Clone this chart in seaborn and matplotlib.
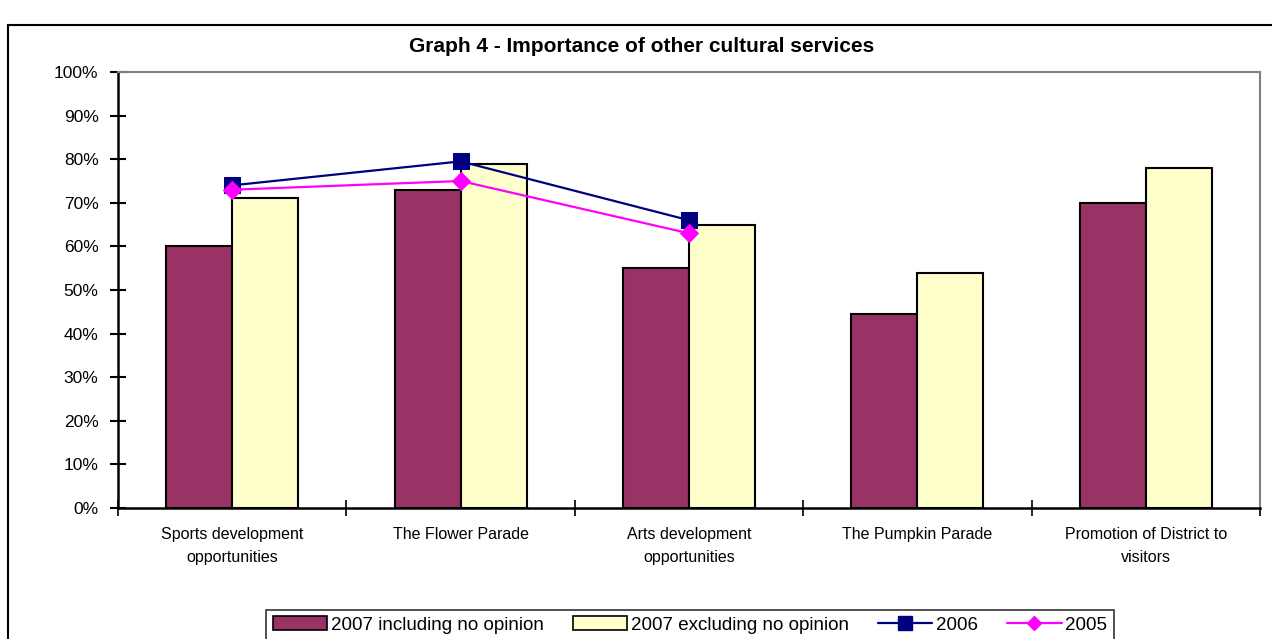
import numpy as np
import pandas as pd
import matplotlib
matplotlib.use("Agg")
import matplotlib.pyplot as plt
from matplotlib.patches import Rectangle, Patch
from matplotlib.lines import Line2D
from matplotlib.ticker import PercentFormatter, FixedLocator, NullFormatter
import seaborn as sns

# ---- data -------------------------------------------------------------
categories = [
    "Sports development\nopportunities",
    "The Flower Parade",
    "Arts development\nopportunities",
    "The Pumpkin Parade",
    "Promotion of District to\nvisitors",
]
incl_2007 = [0.60, 0.73, 0.55, 0.445, 0.70]
excl_2007 = [0.71, 0.79, 0.65, 0.54, 0.78]
vals_2006 = [0.74, 0.795, 0.66]
vals_2005 = [0.73, 0.75, 0.63]

series_names = ["2007 including no opinion", "2007 excluding no opinion"]
line_names = ["2006", "2005"]
title = "Graph 4 - Importance of other cultural services"

bar_colors = ["#993366", "#FFFFCC"]
line_colors = ["#000080", "#FF00FF"]

df = pd.DataFrame({
    "category": categories * 2,
    "value": incl_2007 + excl_2007,
    "series": [series_names[0]] * len(categories) + [series_names[1]] * len(categories),
})

# ---- figure -----------------------------------------------------------
sns.set_theme(style="white")
plt.rcParams["font.family"] = ["Liberation Sans", "DejaVu Sans"]
plt.rcParams["text.color"] = "black"
plt.rcParams["xtick.color"] = "black"
plt.rcParams["ytick.color"] = "black"

W, H = 1272, 639
fig = plt.figure(figsize=(W / 100, H / 100), dpi=100)
fig.patch.set_facecolor("white")

# outer chart frame
fig.add_artist(Rectangle((8 / W, -0.05), 1.2, 1 - 25 / H + 0.05,
                         transform=fig.transFigure, fill=False,
                         edgecolor="black", linewidth=1.5, zorder=0))

left, right, top, bottom = 118, 1260, 72, 508
ax = fig.add_axes([left / W, 1 - bottom / H, (right - left) / W, (bottom - top) / H])

sns.barplot(data=df, x="category", y="value", hue="series",
            palette=bar_colors, order=categories, hue_order=series_names,
            width=0.578, gap=0, edgecolor="black", linewidth=1.5,
            saturation=1, legend=False, ax=ax)

pos = np.arange(len(vals_2006))
sns.lineplot(x=pos, y=vals_2006, color=line_colors[0], marker="s",
             markersize=11.5, markeredgecolor=line_colors[0], linewidth=1.6,
             ax=ax, legend=False)
sns.lineplot(x=pos, y=vals_2005, color=line_colors[1], marker="D",
             markersize=9, markeredgecolor=line_colors[1], linewidth=1.6,
             ax=ax, legend=False)

ax.set_xlim(-0.5, len(categories) - 0.5)
ax.set_ylim(0, 1)
ax.set_xlabel("")
ax.set_ylabel("")

# y axis
ax.yaxis.set_major_locator(FixedLocator(np.linspace(0, 1, 11)))
ax.yaxis.set_major_formatter(PercentFormatter(1.0, decimals=0))
ax.tick_params(axis="y", which="major", direction="inout", length=12,
               width=1.5, color="black", labelsize=12.5, pad=8,
               labelcolor="black", left=True)

# x axis: marks on category boundaries, names in the middle
ax.xaxis.set_major_locator(FixedLocator(np.arange(-0.5, len(categories), 1.0)))
ax.xaxis.set_major_formatter(NullFormatter())
ax.xaxis.set_minor_locator(FixedLocator(np.arange(len(categories))))
ax.set_xticklabels(categories, minor=True)
ax.tick_params(axis="x", which="major", direction="inout", length=12,
               width=1.2, color="black", bottom=True)
ax.tick_params(axis="x", which="minor", length=0, labelsize=11.5, pad=14,
               labelcolor="black")
for lbl in ax.get_xticklabels(minor=True):
    lbl.set_linespacing(1.65)

for side in ["left", "bottom"]:
    ax.spines[side].set_color("black")
    ax.spines[side].set_linewidth(1.8)
for side in ["top", "right"]:
    ax.spines[side].set_color("#808080")
    ax.spines[side].set_linewidth(1.5)
ax.grid(False)
ax.set_facecolor("white")

fig.text(642 / W, 1 - 46 / H, title, ha="center", va="center",
         fontsize=15, fontweight="bold", color="black")

handles = [
    Patch(facecolor=bar_colors[0], edgecolor="black", linewidth=1.2),
    Patch(facecolor=bar_colors[1], edgecolor="black", linewidth=1.2),
    Line2D([], [], color=line_colors[0], marker="s", markersize=10, linewidth=1.6),
    Line2D([], [], color=line_colors[1], marker="D", markersize=7, linewidth=1.6),
]
leg = fig.legend(handles, series_names + line_names, ncol=4,
                 loc="center", bbox_to_anchor=(690 / W, 1 - 625 / H),
                 fontsize=13.5, frameon=True, fancybox=False, handlelength=2.9,
                 handleheight=0.75, handletextpad=0.2, columnspacing=1.55,
                 borderpad=0.35, borderaxespad=0)
leg.get_frame().set_edgecolor("black")
leg.get_frame().set_linewidth(1.2)
for t in leg.get_texts():
    t.set_color("black")

fig.savefig("out.png", dpi=100)
